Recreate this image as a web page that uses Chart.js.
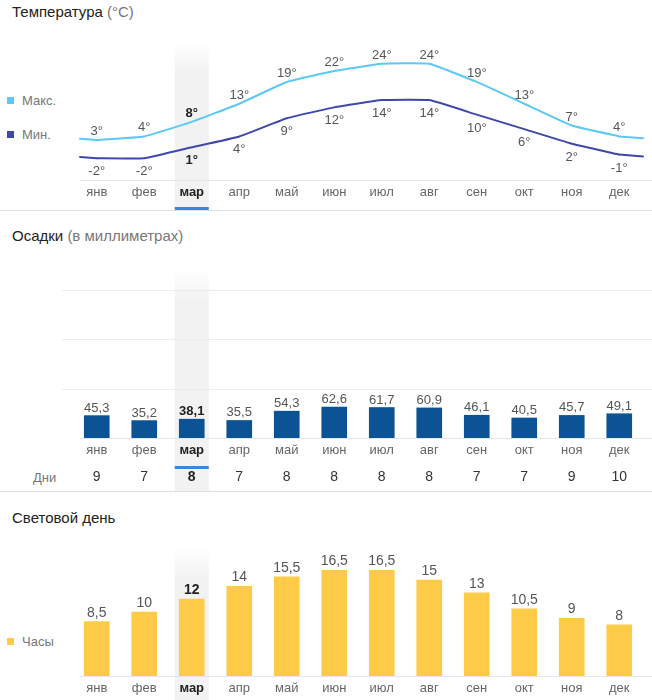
<!DOCTYPE html>
<html lang="ru">
<head>
<meta charset="utf-8">
<script src="https://cdn.jsdelivr.net/npm/chart.js@4"></script>
<style>
  body { margin: 0; background: #fff; font-family: 'Liberation Sans', Arial, sans-serif; }
  #page { position: relative; width: 652px; height: 700px; overflow: hidden; }
  .title { position: absolute; left: 12px; font-size: 15px; color: #222; line-height: 18px; }
  .title span { color: #777; }
  .legend { position: absolute; left: 7px; font-size: 13px; color: #777; line-height: 16px; }
  .legend i { display: inline-block; width: 7px; height: 7px; margin-right: 8px; vertical-align: 1px; }
  .sep { position: absolute; left: 0; width: 652px; height: 1px; background: #e0e0e0; }
  canvas { position: absolute; left: 0; }
</style>
</head>
<body>
<div id="page">
  <div class="title" style="top:3px">Температура <span>(°C)</span></div>
  <div class="legend" style="top:93px"><i style="background:#5bc8f5"></i>Макс.</div>
  <div class="legend" style="top:127px"><i style="background:#3d48aa"></i>Мин.</div>
  <canvas id="tempChart" width="652" height="180" style="top:30px"></canvas>
  <div class="sep" style="top:210px"></div>

  <div class="title" style="top:227px">Осадки <span>(в миллиметрах)</span></div>
  <div class="legend" style="top:470px; left:33px">Дни</div>
  <canvas id="rainChart" width="652" height="232" style="top:260px"></canvas>
  <div class="sep" style="top:491px"></div>

  <div class="title" style="top:509px">Световой день</div>
  <div class="legend" style="top:634px"><i style="background:#fdcb48"></i>Часы</div>
  <canvas id="sunChart" width="652" height="160" style="top:540px"></canvas>
</div>

<script>
const months = ['янв', 'фев', 'мар', 'апр', 'май', 'июн', 'июл', 'авг', 'сен', 'окт', 'ноя', 'дек'];
const tempMax = [3, 4, 8, 13, 19, 22, 24, 24, 19, 13, 7, 4];
const tempMin = [-2, -2, 1, 4, 9, 12, 14, 14, 10, 6, 2, -1];
const rainMm = [45.3, 35.2, 38.1, 35.5, 54.3, 62.6, 61.7, 60.9, 46.1, 40.5, 45.7, 49.1];
const rainDays = [9, 7, 8, 7, 8, 8, 8, 8, 7, 7, 9, 10];
const dayHours = [8.5, 10, 12, 14, 15.5, 16.5, 16.5, 15, 13, 10.5, 9, 8];
const current = 2; // март

const FONT = "'Liberation Sans', Arial, sans-serif";
Chart.defaults.font.family = FONT;

const comma = v => String(v).replace('.', ',');

// grey column behind the current month, grid lines, base line
const monthBand = {
    id: 'monthBand',
    beforeDraw(chart, args, opts) {
        const { ctx, chartArea, scales } = chart;
        const x = scales.x.getPixelForValue(current);
        const top = chartArea.top;
        const g = ctx.createLinearGradient(0, top, 0, top + 30);
        g.addColorStop(0, 'rgba(242,242,242,0)');
        g.addColorStop(1, '#f2f2f2');
        ctx.save();
        ctx.fillStyle = g;
        ctx.fillRect(x - 17, top, 34, chart.height - top);

        ctx.strokeStyle = '#ececec';
        ctx.lineWidth = 1;
        if (opts.grid) {
            scales.y.ticks.forEach(t => {
                if (t.value <= 0 || t.value % 100 !== 0) return;
                const py = Math.round(scales.y.getPixelForValue(t.value)) + 0.5;
                ctx.beginPath();
                ctx.moveTo(62, py);
                ctx.lineTo(chart.width, py);
                ctx.stroke();
            });
        }
        const by = Math.round(chartArea.bottom) + 0.5;
        ctx.strokeStyle = '#e6e6e6';
        ctx.beginPath();
        ctx.moveTo(80, by);
        ctx.lineTo(chart.width, by);
        ctx.stroke();

        if (opts.underline !== undefined) {
            ctx.fillStyle = '#3b87db';
            ctx.fillRect(x - 17, scales.x.bottom + opts.underline, 34, 3);
        }
        ctx.restore();
    }
};

// value labels over points and bars
const valueLabels = {
    id: 'valueLabels',
    afterDatasetsDraw(chart) {
        const ctx = chart.ctx;
        chart.data.datasets.forEach((ds, di) => {
            chart.getDatasetMeta(di).data.forEach((el, i) => {
                const bold = i === current;
                ctx.save();
                ctx.font = (bold ? 'bold ' : '') + ds.labelSize + 'px ' + FONT;
                ctx.fillStyle = bold ? '#222' : '#555';
                ctx.textAlign = 'center';
                ctx.textBaseline = 'alphabetic';
                ctx.fillText(ds.fmt(ds.data[i]), el.x, el.y + ds.labelShift);
                ctx.restore();
            });
        });
    }
};

// line runs a little past jan / dec toward the wrap-around value
const edgeLines = {
    id: 'edgeLines',
    afterDatasetsDraw(chart) {
        const { ctx, chartArea, scales } = chart;
        chart.data.datasets.forEach((ds, di) => {
            const pts = chart.getDatasetMeta(di).data;
            const first = pts[0], last = pts[pts.length - 1];
            const yMid = scales.y.getPixelForValue((ds.data[0] + ds.data[ds.data.length - 1]) / 2);
            const leftX = 80;
            const t = (first.x - leftX) / (first.x - chartArea.left);
            ctx.save();
            ctx.strokeStyle = ds.borderColor;
            ctx.lineWidth = 2;
            ctx.lineCap = 'round';
            ctx.beginPath();
            ctx.moveTo(leftX, first.y + (yMid - first.y) * t);
            ctx.lineTo(first.x, first.y);
            ctx.stroke();
            ctx.beginPath();
            ctx.moveTo(last.x, last.y);
            ctx.lineTo(chartArea.right, yMid);
            ctx.stroke();
            ctx.restore();
        });
    }
};

const monthTicks = (padding) => ({
    padding: padding,
    color: c => c.index === current ? '#222' : '#666',
    font: c => ({ family: FONT, size: 13, weight: c.index === current ? 'bold' : 'normal' })
});

document.addEventListener('DOMContentLoaded', () => {
    new Chart(document.getElementById('tempChart'), {
        type: 'line',
        data: {
            labels: months,
            datasets: [{
                label: 'Макс.',
                data: tempMax,
                borderColor: '#5bc8f5',
                borderWidth: 2,
                pointRadius: 0,
                tension: 0.1,
                fmt: v => v + '°',
                labelSize: 13,
                labelShift: -5
            }, {
                label: 'Мин.',
                data: tempMin,
                borderColor: '#3d48aa',
                borderWidth: 2,
                pointRadius: 0,
                tension: 0.1,
                fmt: v => v + '°',
                labelSize: 13,
                labelShift: 17
            }]
        },
        options: {
            responsive: false,
            animation: false,
            layout: { padding: { left: 73, right: 9, top: 12, bottom: 0 } },
            plugins: {
                legend: { display: false },
                tooltip: { enabled: false },
                monthBand: { underline: -3 }
            },
            scales: {
                x: {
                    offset: true,
                    grid: { display: false, drawTicks: false },
                    border: { display: false },
                    ticks: monthTicks(5),
                    afterFit: a => { a.height = 30; }
                },
                y: { display: false, min: -8, max: 30 }
            }
        },
        plugins: [monthBand, edgeLines, valueLabels]
    });

    new Chart(document.getElementById('rainChart'), {
        type: 'bar',
        data: {
            labels: months,
            datasets: [{
                label: 'Осадки',
                data: rainMm,
                backgroundColor: '#0b5394',
                barThickness: 25,
                fmt: v => comma(v.toFixed(1)),
                labelSize: 13,
                labelShift: -4
            }]
        },
        options: {
            responsive: false,
            animation: false,
            layout: { padding: { left: 73, right: 9, top: 10, bottom: 0 } },
            plugins: {
                legend: { display: false },
                tooltip: { enabled: false },
                monthBand: { grid: true, underline: 2 }
            },
            scales: {
                x: {
                    grid: { display: false, drawTicks: false },
                    border: { display: false },
                    ticks: monthTicks(5),
                    afterFit: a => { a.height = 26; }
                },
                x2: {
                    type: 'category',
                    labels: rainDays.map(String),
                    position: 'bottom',
                    weight: 1,
                    offset: true,
                    grid: { display: false, drawTicks: false },
                    border: { display: false },
                    ticks: {
                        padding: 5,
                        color: c => c.index === current ? '#222' : '#333',
                        font: c => ({ family: FONT, size: 14, weight: c.index === current ? 'bold' : 'normal' })
                    },
                    afterFit: a => { a.height = 28; }
                },
                y: { display: false, min: 0, max: 340, ticks: { stepSize: 100 } }
            }
        },
        plugins: [monthBand, valueLabels]
    });

    new Chart(document.getElementById('sunChart'), {
        type: 'bar',
        data: {
            labels: months,
            datasets: [{
                label: 'Часы',
                data: dayHours,
                backgroundColor: '#fdcb48',
                barThickness: 25,
                fmt: v => comma(v),
                labelSize: 14,
                labelShift: -5
            }]
        },
        options: {
            responsive: false,
            animation: false,
            layout: { padding: { left: 73, right: 9, top: 8, bottom: 0 } },
            plugins: {
                legend: { display: false },
                tooltip: { enabled: false },
                monthBand: {}
            },
            scales: {
                x: {
                    grid: { display: false, drawTicks: false },
                    border: { display: false },
                    ticks: monthTicks(5),
                    afterFit: a => { a.height = 24; }
                },
                y: { display: false, min: 0, max: 20 }
            }
        },
        plugins: [monthBand, valueLabels]
    });
});
</script>
</body>
</html>
